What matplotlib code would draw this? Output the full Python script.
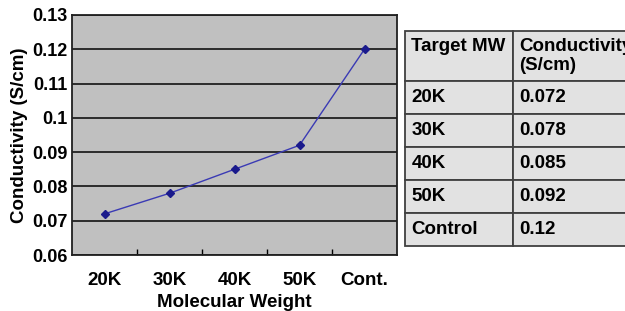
import matplotlib.pyplot as plt
import numpy as np

# data
categories = ['20K', '30K', '40K', '50K', 'Cont.']
conductivity = [0.072, 0.078, 0.085, 0.092, 0.12]
table_header = ['Target MW', 'Conductivity\n(S/cm)']
table_mw = ['20K', '30K', '40K', '50K', 'Control']
table_cond = ['0.072', '0.078', '0.085', '0.092', '0.12']

plt.rcParams['font.family'] = ['Liberation Sans', 'DejaVu Sans']
plt.rcParams['font.weight'] = 'bold'

fig = plt.figure(figsize=(6.25, 3.11), dpi=100)

# chart
ax = fig.add_axes([0.1152, 0.180, 0.52, 0.772])
ax.set_facecolor('#c0c0c0')
x = np.arange(len(categories))
ax.plot(x, conductivity, color='#3a3ab4', lw=1, marker='D', ms=4,
        mfc='#1a1a8c', mec='#1a1a8c', zorder=3)
ax.set_xlim(-0.5, len(categories) - 0.5)
ax.set_ylim(0.06, 0.13)
ax.set_yticks(np.arange(0.06, 0.1301, 0.01))
ax.set_yticklabels(['0.06', '0.07', '0.08', '0.09', '0.1', '0.11', '0.12', '0.13'])
ax.yaxis.grid(True, color='#202020', lw=1.3)
ax.set_axisbelow(True)
ax.tick_params(axis='y', length=0, labelsize=13, pad=3)
ax.set_xticks(x)
ax.set_xticklabels(categories)
ax.set_xticks(x[:-1] + 0.5, minor=True)
ax.tick_params(axis='x', which='major', length=0, labelsize=13.5, pad=12)
ax.tick_params(axis='x', which='minor', length=4, width=1, direction='in')
ax.tick_params(axis='x', which='minor', bottom=True)
for s in ax.spines.values():
    s.set_color('#202020')
    s.set_linewidth(1.3)
ax.set_xlabel('Molecular Weight', fontsize=13.5, fontweight='bold', labelpad=4)
ax.set_ylabel('Conductivity (S/cm)', fontsize=13.5, fontweight='bold', labelpad=3)

# table
tax = fig.add_axes([0.648, 0.209, 0.37, 0.691])
tax.axis('off')
cells = [[m, c] for m, c in zip(table_mw, table_cond)]
tbl = tax.table(cellText=cells, colLabels=table_header, cellLoc='left',
                colLoc='left', bbox=[0, 0, 1, 1], colWidths=[105, 120])
tbl.auto_set_font_size(False)
for (r, c), cell in tbl.get_celld().items():
    cell.set_facecolor('#e2e2e2')
    cell.set_edgecolor('#404040')
    cell.set_linewidth(1.3)
    cell.PAD = 0.06 if c == 0 else 0.05
    t = cell.get_text()
    t.set_fontsize(13.5)
    t.set_fontweight('bold')
    if r == 0:
        cell.set_height(50)
        if c == 0:
            t.set_text('Target MW\n ')
    else:
        cell.set_height(33)

fig.savefig('out.png', dpi=100)
